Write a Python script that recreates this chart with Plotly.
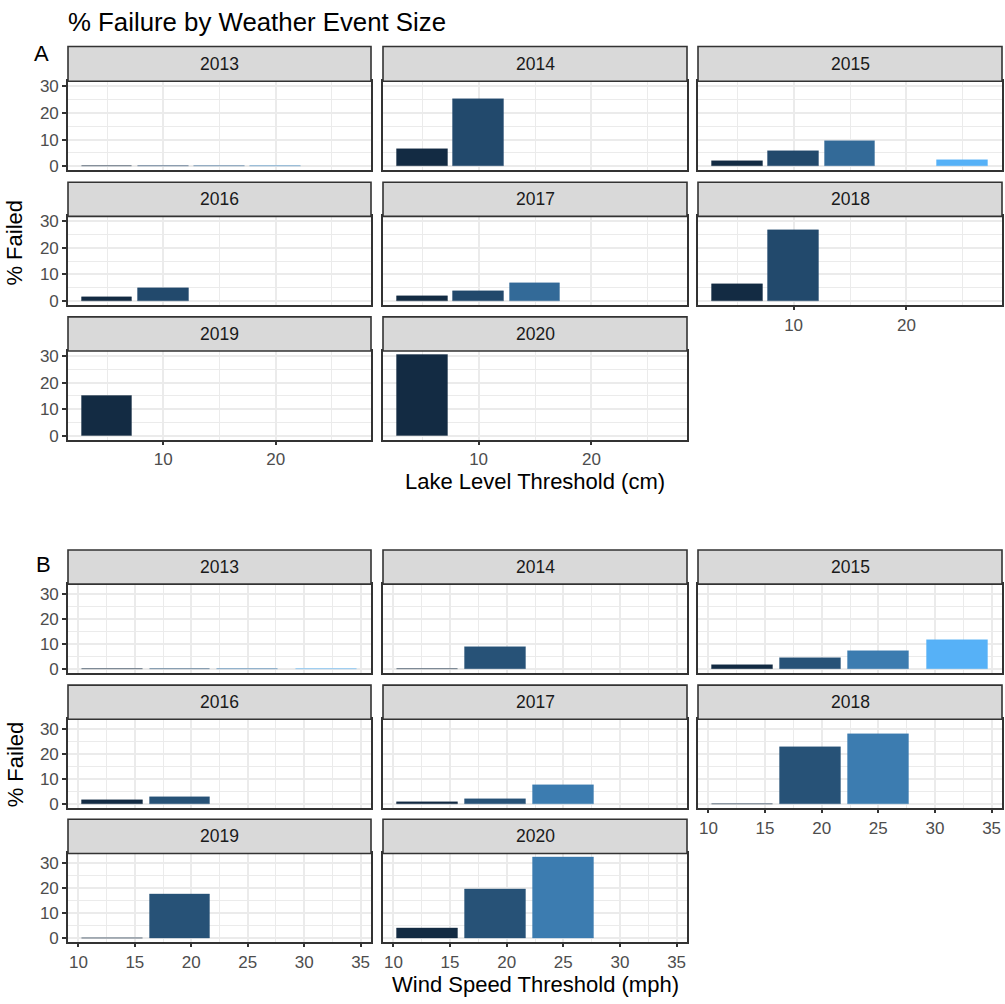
import plotly.graph_objects as go

W, H = 1005, 1004

years = ["2013", "2014", "2015", "2016", "2017", "2018", "2019", "2020"]

# ---- Panel A: % failed by lake level threshold (cm) ----
lake_thresholds = [5, 10, 15, 20, 25]
lake_2013 = [0, 0, 0, 0, None]
lake_2014 = [6.4, 25.3, None, None, None]
lake_2015 = [2.0, 5.8, 9.4, None, 2.2]
lake_2016 = [1.5, 4.7, None, None, None]
lake_2017 = [1.8, 3.6, 6.5, None, None]
lake_2018 = [6.3, 26.5, None, None, None]
lake_2019 = [14.8, None, None, None, None]
lake_2020 = [30.4, None, None, None, None]

# ---- Panel B: % failed by wind speed threshold (mph) ----
wind_thresholds = [13, 19, 25, 32]
wind_2013 = [0, 0, 0, 0]
wind_2014 = [0, 8.6, None, None]
wind_2015 = [1.8, 4.4, 7.3, 11.5]
wind_2016 = [1.5, 2.8, None, None]
wind_2017 = [0.8, 2.0, 7.6, None]
wind_2018 = [0, 22.7, 27.8, None]
wind_2019 = [0, 17.5, None, None]
wind_2020 = [4.0, 19.6, 32.2, None]

lake_ticks = [10, 20]
wind_ticks = [10, 15, 20, 25, 30, 35]
y_ticks = [0, 10, 20, 30]

lake_series = [lake_2013, lake_2014, lake_2015, lake_2016, lake_2017, lake_2018, lake_2019, lake_2020]
wind_series = [wind_2013, wind_2014, wind_2015, wind_2016, wind_2017, wind_2018, wind_2019, wind_2020]

FONT = "Liberation Sans, Arial, sans-serif"
LOW, HIGH = "#132B43", "#56B1F7"
TICK_SIZE = 17
STRIP_SIZE = 17.5
TITLE_SIZE = 22


# ---- ggplot-like gradient (interpolation in CIELAB) ----
def _hex2rgb(h):
    h = h.lstrip("#")
    return [int(h[i:i + 2], 16) / 255 for i in (0, 2, 4)]


def _lin(c):
    return c / 12.92 if c <= 0.04045 else ((c + 0.055) / 1.055) ** 2.4


def _gam(c):
    c = max(0.0, min(1.0, c))
    return 12.92 * c if c <= 0.0031308 else 1.055 * c ** (1 / 2.4) - 0.055


WX, WY, WZ = 0.95047, 1.0, 1.08883


def _rgb2lab(rgb):
    r, g, b = [_lin(c) for c in rgb]
    x = 0.4124 * r + 0.3576 * g + 0.1805 * b
    y = 0.2126 * r + 0.7152 * g + 0.0722 * b
    z = 0.0193 * r + 0.1192 * g + 0.9505 * b

    def f(t):
        return t ** (1 / 3) if t > 0.008856 else 7.787 * t + 16 / 116
    fx, fy, fz = f(x / WX), f(y / WY), f(z / WZ)
    return [116 * fy - 16, 500 * (fx - fy), 200 * (fy - fz)]


def _lab2rgb(lab):
    L, a, b = lab
    fy = (L + 16) / 116
    fx = fy + a / 500
    fz = fy - b / 200

    def fi(t):
        return t ** 3 if t ** 3 > 0.008856 else (t - 16 / 116) / 7.787
    x, y, z = WX * fi(fx), WY * fi(fy), WZ * fi(fz)
    r = 3.2406 * x - 1.5372 * y - 0.4986 * z
    g = -0.9689 * x + 1.8758 * y + 0.0415 * z
    bb = 0.0557 * x - 0.2040 * y + 1.0570 * z
    return [_gam(c) for c in (r, g, bb)]


def grad(t):
    l1, l2 = _rgb2lab(_hex2rgb(LOW)), _rgb2lab(_hex2rgb(HIGH))
    lab = [l1[i] + (l2[i] - l1[i]) * t for i in range(3)]
    return [round(c * 255) for c in _lab2rgb(lab)]


def px_x(p):
    return p / W


def px_y(p):
    return 1 - p / H


cols_px = [(68, 371), (383, 687), (698, 1002)]
rows_A = [(43, 78, 168), (180, 214.5, 304), (316, 350.5, 440)]
rows_B = [(551.5, 586, 676), (688, 722.5, 812), (823.5, 858, 947.5)]

fig = go.Figure()
layout = {}
shapes = []
annotations = []

GRID = "#EBEBEB"
AX = "#333333"


def add_block(series_list, thresholds, bar_w, xticks, xminor, rows, offset):
    tmin, tmax = min(thresholds), max(thresholds)
    vals = [v for s in series_list for v in s if v is not None]
    ymax = max(vals)
    xlo, xhi = tmin - bar_w / 2, tmax + bar_w / 2
    xr = [xlo - 0.05 * (xhi - xlo), xhi + 0.05 * (xhi - xlo)]
    yr = [-0.05 * ymax, ymax * 1.05]
    for i, (yr_lbl, s) in enumerate(zip(years, series_list)):
        n = offset + i + 1
        r, c = divmod(i, 3)
        x0, x1 = cols_px[c]
        st, pt, pb = rows[r]
        xs = [t for t, v in zip(thresholds, s) if v is not None]
        ys = [v for v in s if v is not None]
        cols = [grad((t - tmin) / (tmax - tmin)) for t in xs]
        fills = ["rgb(%d,%d,%d)" % tuple(cc) for cc in cols]
        lines = ["rgba(%d,%d,%d,0.35)" % tuple(cc) for cc in cols]
        sfx = "" if n == 1 else str(n)
        fig.add_trace(go.Bar(
            x=xs, y=ys, width=bar_w, xaxis="x" + sfx, yaxis="y" + sfx,
            marker=dict(color=fills, line=dict(color=lines, width=1)),
            showlegend=False, hoverinfo="x+y",
        ))
        # bottom panel of each column shows x ticks
        show_x = i + 3 >= len(years)
        show_y = c == 0
        layout["xaxis" + sfx] = dict(
            domain=[px_x(x0), px_x(x1)], anchor="y" + sfx, range=xr,
            tickmode="array", tickvals=xticks, showticklabels=show_x,
            ticks="outside" if show_x else "", ticklen=3.5, tickwidth=1.5, tickcolor=AX,
            tickfont=dict(size=TICK_SIZE, color="#4D4D4D", family=FONT),
            showgrid=True, gridcolor=GRID, gridwidth=2, zeroline=False,
            minor=dict(tickmode="array", tickvals=xminor, showgrid=True, gridcolor=GRID, gridwidth=1),
            showline=True, mirror=True, linecolor=AX, linewidth=1.6, fixedrange=True,
        )
        layout["yaxis" + sfx] = dict(
            domain=[px_y(pb), px_y(pt)], anchor="x" + sfx, range=yr,
            tickmode="array", tickvals=y_ticks, showticklabels=show_y,
            ticks="outside" if show_y else "", ticklen=4, tickwidth=1.5, tickcolor=AX,
            tickfont=dict(size=TICK_SIZE, color="#4D4D4D", family=FONT),
            showgrid=True, gridcolor=GRID, gridwidth=2, zeroline=False,
            minor=dict(tickmode="array", tickvals=[5, 15, 25], showgrid=True, gridcolor=GRID, gridwidth=1),
            showline=True, mirror=True, linecolor=AX, linewidth=1.6, fixedrange=True,
        )
        shapes.append(dict(type="rect", xref="paper", yref="paper",
                           x0=px_x(x0), x1=px_x(x1), y0=px_y(pt), y1=px_y(st),
                           fillcolor="#D9D9D9", line=dict(color=AX, width=1.6), layer="above"))
        annotations.append(dict(text=yr_lbl, xref="paper", yref="paper",
                                x=px_x((x0 + x1) / 2), y=px_y((st + pt) / 2),
                                xanchor="center", yanchor="middle", showarrow=False,
                                font=dict(size=STRIP_SIZE, color="#1A1A1A", family=FONT)))


add_block(lake_series, lake_thresholds, 4.5, lake_ticks, [5, 15, 25], rows_A, 0)
add_block(wind_series, wind_thresholds, 5.4, wind_ticks, [12.5, 17.5, 22.5, 27.5, 32.5], rows_B, 8)


def txt(text, x, y, size, xanchor="center", angle=0, color="black"):
    annotations.append(dict(text=text, xref="paper", yref="paper", x=px_x(x), y=px_y(y),
                            xanchor=xanchor, yanchor="middle", showarrow=False, textangle=angle,
                            font=dict(size=size, color=color, family=FONT)))


txt("% Failure by Weather Event Size", 66, 18, 25.8, xanchor="left")
txt("A", 41, 50, 22)
txt("B", 43, 566, 22)
txt("% Failed", 15, 241, TITLE_SIZE, angle=-90)
txt("% Failed", 15, 768, TITLE_SIZE, angle=-90)
txt("Lake Level Threshold (cm)", 535, 482, TITLE_SIZE)
txt("Wind Speed Threshold (mph)", 535, 990, TITLE_SIZE)

fig.update_layout(
    width=W, height=H, margin=dict(l=0, r=0, t=0, b=0),
    paper_bgcolor="white", plot_bgcolor="white",
    shapes=shapes, annotations=annotations, bargap=0,
    font=dict(family=FONT), **layout,
)
fig.write_html("out.html")
